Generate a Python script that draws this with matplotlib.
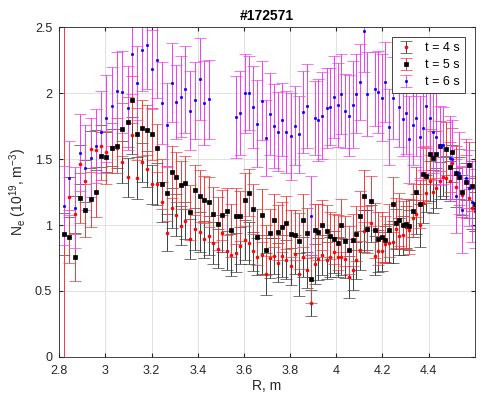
import numpy as np
import matplotlib.pyplot as plt

plt.rcParams['font.family'] = ['Liberation Sans', 'DejaVu Sans']
plt.rcParams['mathtext.default'] = 'regular'

nan = np.nan

# major radius, m
R = [2.820, 2.843, 2.867, 2.890, 2.913, 2.936, 2.959, 2.982, 3.005, 3.028,
     3.051, 3.074, 3.096, 3.116, 3.138, 3.159, 3.181, 3.203, 3.223, 3.245,
     3.266, 3.287, 3.306, 3.327, 3.347, 3.367, 3.387, 3.408, 3.428, 3.448,
     3.467, 3.487, 3.506, 3.526, 3.545, 3.564, 3.584, 3.603, 3.621, 3.640,
     3.659, 3.677, 3.696, 3.712, 3.731, 3.748, 3.767, 3.784, 3.803, 3.820,
     3.838, 3.855, 3.872, 3.890, 3.906, 3.923, 3.940, 3.958, 3.975, 3.990,
     4.008, 4.022, 4.040, 4.055, 4.071, 4.087, 4.103, 4.119, 4.135, 4.151,
     4.167, 4.183, 4.197, 4.213, 4.229, 4.245, 4.259, 4.272, 4.288, 4.302,
     4.317, 4.332, 4.347, 4.361, 4.376, 4.390, 4.405, 4.419, 4.434, 4.448,
     4.461, 4.474, 4.491, 4.503, 4.517, 4.532, 4.546, 4.560, 4.574, 4.587,
     4.600]

ne_4s = [0.934, 1.214, 1.080, 1.460, 1.337, 1.576, 1.571, 1.599, 1.556, 1.590,
         1.581, 1.480, 1.362, 1.682, 1.357, 1.475, 1.425, 1.309, 1.309, 1.176,
         0.942, 1.131, 1.075, 0.995, 1.032, 0.894, 0.969, 0.946, 0.891, 0.919,
         0.866, 0.821, 0.937, 0.806, 0.770, 0.791, 0.844, 0.886, 0.866, 0.801,
         0.758, 0.776, 0.629, 0.750, 0.765, 0.715, 0.763, 0.738, 0.687, 0.778,
         0.625, 0.758, 0.659, 0.410, 0.705, 0.740, 0.773, 0.733, 0.758, 0.795,
         0.758, 0.758, 0.745, 0.604, 0.657, 0.733, 0.808, 0.957, 0.964, 1.012,
         0.768, 0.801, 0.801, 0.856, 0.861, 0.869, 0.972, 0.916, 0.921, 0.984,
         0.964, 1.052, 1.082, 0.997, 1.165, 1.241, 1.335, 1.254, 1.279, 1.335,
         1.367, 1.360, 1.335, 1.468, 1.286, 1.354, 1.229, 1.329, 1.203, 1.128,
         1.103]
err_4s = [0.16, 0.15, 0.14, 0.15, 0.16, 0.14, 0.15, 0.16, 0.15, 0.14,
          0.15, 0.16, 0.15, 0.14, 0.16, 0.15, 0.14, 0.15, 0.16, 0.15,
          0.14, 0.15, 0.16, 0.15, 0.14, 0.15, 0.16, 0.15, 0.14, 0.15,
          0.16, 0.15, 0.14, 0.15, 0.16, 0.15, 0.14, 0.15, 0.16, 0.15,
          0.14, 0.15, 0.16, 0.15, 0.14, 0.15, 0.16, 0.15, 0.14, 0.15,
          0.16, 0.15, 0.14, 0.10, 0.15, 0.16, 0.15, 0.14, 0.15, 0.16,
          0.15, 0.14, 0.15, 0.16, 0.15, 0.14, 0.15, 0.16, 0.15, 0.14,
          0.15, 0.16, 0.15, 0.14, 0.15, 0.16, 0.15, 0.14, 0.15, 0.16,
          0.15, 0.14, 0.15, 0.16, 0.15, 0.14, 0.15, 0.16, 0.15, 0.14,
          0.15, 0.16, 0.15, 0.14, 0.15, 0.16, 0.15, 0.14, 0.15, 0.16,
          0.15]

ne_5s = [0.930, 0.912, 0.755, 1.203, 1.113, 1.196, 1.254, 1.523, 1.513, 1.584,
         1.601, 1.727, 1.782, 1.951, 1.690, 1.735, 1.720, 1.690, 1.586, 1.314,
         1.241, 1.403, 1.364, 1.304, 1.322, 1.097, 1.269, 1.221, 1.193, 1.176,
         1.082, 1.010, 1.075, 1.103, 0.959, 1.070, 1.067, 1.193, 1.246, 1.120,
         0.909, 1.075, 0.810, 0.942, 1.035, 0.944, 0.984, 1.019, 0.934, 0.924,
         0.878, 1.035, 0.942, 0.591, 0.961, 0.946, 0.999, 0.954, 0.919, 0.894,
         0.866, 0.999, 0.881, 0.810, 0.886, 0.934, 1.070, 1.221, 0.967, 1.183,
         0.959, 0.896, 0.912, 0.889, 0.959, 1.158, 1.014, 1.040, 0.999, 1.010,
         0.989, 1.108, 1.248, 1.158, 1.390, 1.375, 1.536, 1.511, 1.536, 1.601,
         nan, 1.579, 1.443, 1.556, 1.397, 1.365, 1.248, 1.329, 1.452, 1.297,
         1.163]
err_5s = [1.80, 0.20, 0.18, 0.19, 0.20, 0.21, 0.19, 0.18, 0.20, 0.19,
          0.21, 0.20, 0.19, 0.18, 0.20, 0.21, 0.19, 0.20, 0.18, 0.19,
          0.21, 0.20, 0.19, 0.18, 0.20, 0.21, 0.19, 0.20, 0.18, 0.19,
          0.21, 0.20, 0.19, 0.18, 0.20, 0.21, 0.19, 0.20, 0.18, 0.19,
          0.21, 0.20, 0.19, 0.18, 0.20, 0.21, 0.19, 0.20, 0.18, 0.19,
          0.21, 0.20, 0.19, 0.18, 0.20, 0.21, 0.19, 0.20, 0.18, 0.19,
          0.21, 0.20, 0.19, 0.18, 0.20, 0.21, 0.19, 0.20, 0.18, 0.19,
          0.21, 0.20, 0.19, 0.18, 0.20, 0.21, 0.19, 0.20, 0.18, 0.19,
          0.21, 0.20, 0.19, 0.18, 0.20, 0.21, 0.19, 0.20, 0.18, 0.19,
          0.21, 0.20, 0.19, 0.18, 0.20, 0.21, 0.19, 0.20, 0.18, 0.19,
          0.21]

ne_6s = [1.148, 1.354, 1.133, 1.550, 1.435, 1.510, 1.600, 1.705, 1.810, 1.900,
         2.020, 2.010, 1.886, 2.294, 2.077, 2.329, 2.362, 2.183, 2.253, 1.926,
         1.758, 2.079, 1.931, 1.974, 2.029, 1.866, 1.946, 2.107, 1.926, 1.954,
         nan, nan, nan, nan, nan, 1.820, 1.850, 1.999, 1.999, 1.893,
         1.770, 1.943, 1.662, 1.845, 1.750, 1.709, 1.800, 1.705, 1.674, 1.752,
         1.687, 1.856, 1.903, 1.070, 1.810, 1.795, 1.830, 1.888, 1.898, 1.971,
         1.911, 1.994, 1.868, 1.830, 1.911, 1.996, 2.085, 2.468, 1.996, nan,
         2.032, 2.011, 1.966, 2.085, 1.745, 1.961, nan, 1.893, 1.803, 1.850,
         1.652, 1.758, 1.813, 1.669, 1.737, 1.903, 1.810, 1.707, 1.669, 1.601,
         1.604, nan, 1.505, 1.498, 1.221, 1.392, 1.116, 1.354, 1.279, 1.178,
         1.128]
err_6s = [0.30, 0.28, 0.31, 0.29, 0.32, 0.30, 0.28, 0.31, 0.33, 0.30,
          0.29, 0.31, 0.32, 0.30, 0.28, 0.31, 0.33, 0.30, 0.29, 0.31,
          0.32, 0.30, 0.28, 0.31, 0.33, 0.30, 0.29, 0.31, 0.32, 0.30,
          0.28, 0.31, 0.33, 0.30, 0.29, 0.31, 0.32, 0.30, 0.28, 0.31,
          0.33, 0.30, 0.29, 0.31, 0.32, 0.30, 0.28, 0.31, 0.33, 0.30,
          0.29, 0.31, 0.32, 0.30, 0.28, 0.31, 0.33, 0.30, 0.29, 0.31,
          0.32, 0.30, 0.28, 0.31, 0.33, 0.30, 0.29, 0.31, 0.32, 0.30,
          0.28, 0.31, 0.33, 0.30, 0.29, 0.31, 0.32, 0.30, 0.28, 0.31,
          0.33, 0.30, 0.29, 0.31, 0.32, 0.30, 0.28, 0.31, 0.33, 0.30,
          0.29, 0.31, 0.32, 0.30, 0.28, 0.31, 0.33, 0.30, 0.29, 0.31,
          0.30]

fig = plt.figure(figsize=(4.81, 4.01), dpi=100)
ax = fig.add_axes([0.123, 0.11, 0.864, 0.822])

ax.errorbar(R, ne_4s, yerr=err_4s, fmt='o', ms=2.1, mfc='red', mec='red',
            mew=0.5, ecolor='#404040', elinewidth=0.7, capsize=4,
            capthick=0.7, label='t = 4 s')
ax.errorbar(R, ne_5s, yerr=err_5s, fmt='s', ms=2.5, mfc='black', mec='black',
            mew=0.5, ecolor='#f03a3a', elinewidth=0.7, capsize=4,
            capthick=0.7, label='t = 5 s')
ax.errorbar(R, ne_6s, yerr=err_6s, fmt='o', ms=1.7, mfc='blue', mec='blue',
            mew=0.5, ecolor='#f03cf0', elinewidth=0.7, capsize=4,
            capthick=0.7, label='t = 6 s')

ax.set_xlim(2.8, 4.6)
ax.set_ylim(0, 2.5)
ax.set_xticks([2.8, 3.0, 3.2, 3.4, 3.6, 3.8, 4.0, 4.2, 4.4])
ax.set_xticklabels(['2.8', '3', '3.2', '3.4', '3.6', '3.8', '4', '4.2', '4.4'])
ax.set_yticks([0, 0.5, 1, 1.5, 2, 2.5])
ax.set_yticklabels(['0', '0.5', '1', '1.5', '2', '2.5'])
ax.grid(True, color='#dcdcdc', linewidth=0.6)
ax.set_axisbelow(True)
ax.tick_params(direction='in', top=True, right=True, labelsize=9,
               colors='#262626', length=3)
ax.tick_params(axis='x', pad=6)
ax.tick_params(axis='y', pad=5)
for s in ax.spines.values():
    s.set_color('#262626')
    s.set_linewidth(0.6)

ax.set_xlabel('R, m', fontsize=10, color='#262626', labelpad=1)
ax.set_ylabel('N$_e$ (10$^{19}$, m$^{-3}$)', fontsize=10, color='#262626',
              labelpad=4)
ax.set_title('#172571', fontsize=10, fontweight='bold', pad=5)

leg = ax.legend(loc='upper right', fontsize=9, handlelength=1.4,
                borderaxespad=0.8, fancybox=False, edgecolor='#262626',
                framealpha=1, labelspacing=0.4)
leg.get_frame().set_linewidth(0.6)

fig.savefig('out.png', dpi=100)
